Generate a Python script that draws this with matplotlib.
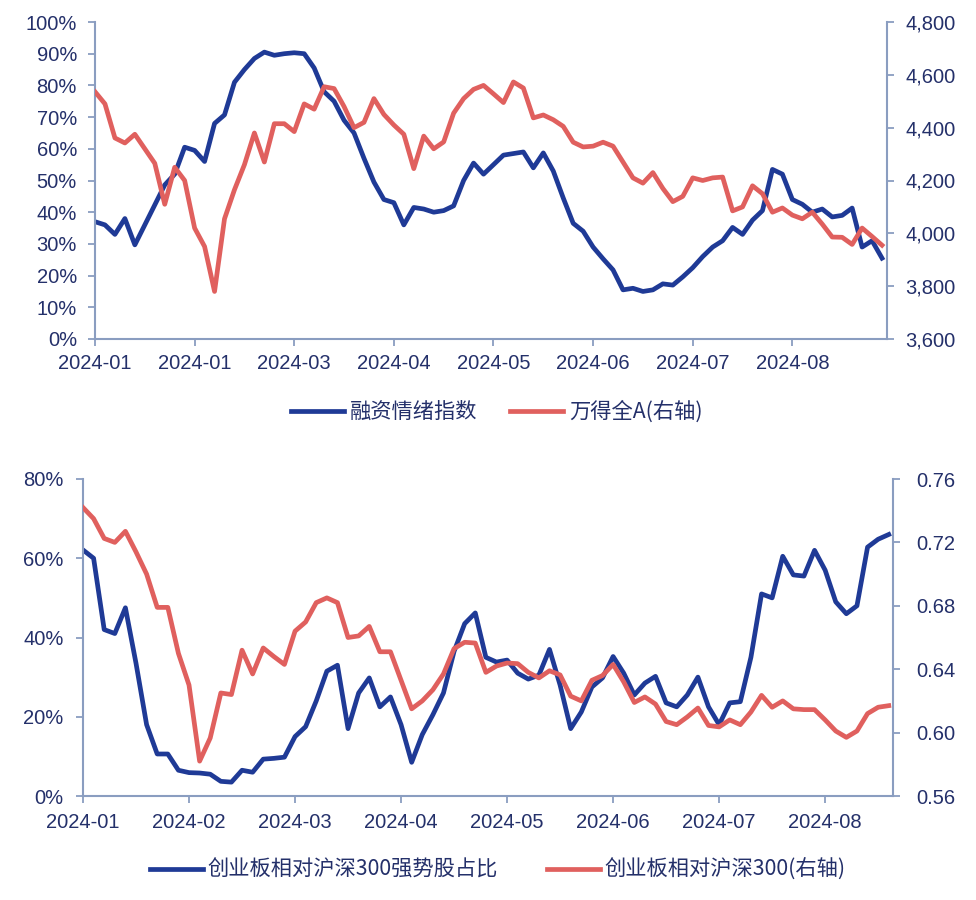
import matplotlib
matplotlib.use('Agg')
import matplotlib.pyplot as plt
from matplotlib.ticker import FuncFormatter, MultipleLocator
from matplotlib.font_manager import FontProperties

# ---------------- data ----------------
top_tick_labels = ['2024-01', '2024-01', '2024-03', '2024-04', '2024-05', '2024-06', '2024-07', '2024-08']
bot_tick_labels = ['2024-01', '2024-02', '2024-03', '2024-04', '2024-05', '2024-06', '2024-07', '2024-08']

top_series_names = ['融资情绪指数', '万得全A(右轴)']
bot_series_names = ['创业板相对沪深300强势股占比', '创业板相对沪深300(右轴)']

margin_sentiment = [37, 36, 33, 38, 29.7, 36, 42.3, 48.6, 52, 60.5,
                    59.5, 56, 68, 70.7, 81, 85, 88.5, 90.5, 89.5, 90,
                    90.3, 90, 85.5, 78, 75, 69, 65, 57, 49.5, 44,
                    43, 36, 41.5, 41, 40, 40.5, 42, 50, 55.5, 52,
                    55, 58, 58.5, 59, 54, 58.7, 53, 44.5, 36.5, 34,
                    29, 25.3, 21.8, 15.5, 16, 15, 15.5, 17.4, 17, 19.6,
                    22.5, 26, 29, 31, 35.2, 33, 37.5, 40.5, 53.5, 52,
                    44, 42.5, 40, 41, 38.5, 39, 41.3, 29, 31, 25.5]

wind_all_a = [4536, 4490, 4361, 4342, 4375, 4320, 4265, 4110, 4250, 4200,
              4020, 3950, 3780, 4055, 4165, 4260, 4380, 4270, 4415, 4415,
              4385, 4490, 4470, 4555, 4548, 4480, 4400, 4420, 4510, 4450,
              4410, 4375, 4245, 4368, 4320, 4346, 4455, 4510, 4545, 4560,
              4528, 4495, 4573, 4550, 4437, 4448, 4430, 4405, 4345, 4327,
              4330, 4345, 4330, 4270, 4210, 4190, 4230, 4170, 4120, 4140,
              4210, 4200, 4210, 4213, 4085, 4100, 4180, 4150, 4080, 4096,
              4069, 4055, 4080, 4035, 3986, 3985, 3958, 4020, 3988, 3955]

gem_strong_share = [62.1, 60, 42, 41, 47.5, 33.5, 18, 10.6, 10.6, 6.5,
                    5.9, 5.8, 5.5, 3.7, 3.5, 6.5, 6.0, 9.3, 9.5, 9.8,
                    15, 17.5, 24, 31.5, 33, 17, 26, 29.8, 22.5, 25,
                    18, 8.5, 15.5, 20.5, 26, 36.5, 43.5, 46.2, 35, 33.8,
                    34.3, 31, 29.5, 30.5, 37, 28, 17, 21.2, 27.5, 29.8,
                    35.2, 31, 25.5, 28.5, 30.2, 23.5, 22.5, 25.5, 30, 22.5,
                    18, 23.5, 23.8, 35, 51, 50, 60.5, 55.8, 55.5, 62,
                    57, 49, 46, 48, 62.8, 64.8, 66]

gem_vs_hs300 = [0.742, 0.735, 0.7225, 0.720, 0.727, 0.714, 0.700, 0.679, 0.679, 0.650,
                0.630, 0.582, 0.5966, 0.625, 0.624, 0.652, 0.637, 0.6534, 0.648, 0.643,
                0.664, 0.6698, 0.682, 0.685, 0.682, 0.660, 0.661, 0.667, 0.651, 0.651,
                0.633, 0.615, 0.620, 0.627, 0.637, 0.653, 0.657, 0.6565, 0.638, 0.642,
                0.6439, 0.6435, 0.638, 0.6345, 0.639, 0.6364, 0.623, 0.620, 0.633, 0.636,
                0.643, 0.632, 0.619, 0.6225, 0.618, 0.607, 0.605, 0.6099, 0.6155, 0.6045,
                0.6036, 0.608, 0.605, 0.613, 0.6235, 0.616, 0.620, 0.615, 0.6145, 0.6145,
                0.608, 0.601, 0.597, 0.601, 0.612, 0.616, 0.617]

# ---------------- style ----------------
BLUE = '#1F3A96'
RED = '#E0605E'
TXT = '#24306A'
SPINE = '#8A9DC0'
TICK_FONT = 'Liberation Sans'
LEG_FONT = FontProperties(family=['Noto Sans CJK SC', 'DejaVu Sans'], size=15.3)
FS = 14.5
LW = 3.4

fig = plt.figure(figsize=(9.76, 9), dpi=100)


def style_axes(ax, ax2, ylpad, yrpad, xpad):
    for s in ['top', 'right']:
        ax.spines[s].set_visible(False)
    for s in ['top', 'left', 'bottom']:
        ax2.spines[s].set_visible(False)
    for sp in [ax.spines['left'], ax.spines['bottom'], ax2.spines['right']]:
        sp.set_color(SPINE)
        sp.set_linewidth(1.5)
    ax.tick_params(axis='y', direction='out', length=5, width=1.3, color=SPINE,
                   labelcolor=TXT, labelsize=FS, pad=ylpad)
    ax.tick_params(axis='x', direction='out', length=5, width=1.3, color=SPINE,
                   labelcolor=TXT, labelsize=FS, pad=xpad)
    ax2.tick_params(axis='y', direction='out', length=5, width=1.3, color=SPINE,
                    labelcolor=TXT, labelsize=FS, pad=yrpad)
    for lab in ax.get_xticklabels() + ax.get_yticklabels() + ax2.get_yticklabels():
        lab.set_fontfamily(TICK_FONT)


# ---------------- top panel ----------------
ax1 = fig.add_axes([95 / 976, 1 - 339 / 900, 792 / 976, 317 / 900])
ax1b = ax1.twinx()
x_top = list(range(len(margin_sentiment)))
l1, = ax1.plot(x_top, margin_sentiment, color=BLUE, lw=LW, solid_joinstyle='round',
               label=top_series_names[0])
l2, = ax1b.plot(x_top, wind_all_a, color=RED, lw=LW, solid_joinstyle='round',
                label=top_series_names[1])
ax1.set_xlim(0, 79.5)
ax1.set_ylim(0, 100)
ax1b.set_ylim(3600, 4800)
ax1.yaxis.set_major_locator(MultipleLocator(10))
ax1.yaxis.set_major_formatter(FuncFormatter(lambda v, p: f'{v:.0f}%'))
ax1b.yaxis.set_major_locator(MultipleLocator(200))
ax1b.yaxis.set_major_formatter(FuncFormatter(lambda v, p: f'{v:,.0f}'))
ax1.set_xticks(list(range(0, 80, 10)))
ax1.set_xticklabels(top_tick_labels)
style_axes(ax1, ax1b, ylpad=8, yrpad=8, xpad=6)

fig.legend([l1, l2], top_series_names, loc='center', bbox_to_anchor=(0.509, 1 - 412 / 900),
           ncol=2, frameon=False, prop=LEG_FONT, labelcolor=TXT, handlelength=2.5,
           handletextpad=0.3, columnspacing=1.5)

# ---------------- bottom panel ----------------
ax2 = fig.add_axes([83 / 976, 1 - 796 / 900, 810 / 976, 317 / 900])
ax2b = ax2.twinx()
x_bot = list(range(len(gem_strong_share)))
l3, = ax2.plot(x_bot, gem_strong_share, color=BLUE, lw=LW, solid_joinstyle='round',
               label=bot_series_names[0])
l4, = ax2b.plot(x_bot, gem_vs_hs300, color=RED, lw=LW, solid_joinstyle='round',
                label=bot_series_names[1])
ax2.set_xlim(0, 76.4)
ax2.set_ylim(0, 80)
ax2b.set_ylim(0.56, 0.76)
ax2.yaxis.set_major_locator(MultipleLocator(20))
ax2.yaxis.set_major_formatter(FuncFormatter(lambda v, p: f'{v:.0f}%'))
ax2b.yaxis.set_major_locator(MultipleLocator(0.04))
ax2b.yaxis.set_major_formatter(FuncFormatter(lambda v, p: f'{v:.2f}'))
ax2.set_xticks(list(range(0, 77, 10)))
ax2.set_xticklabels(bot_tick_labels)
style_axes(ax2, ax2b, ylpad=9, yrpad=12, xpad=7)

fig.legend([l3, l4], bot_series_names, loc='center', bbox_to_anchor=(0.51, 1 - 870 / 900),
           ncol=2, frameon=False, prop=LEG_FONT, labelcolor=TXT, handlelength=2.5,
           handletextpad=0.2, columnspacing=2.3)

fig.savefig('out.png', dpi=100, facecolor='white')
